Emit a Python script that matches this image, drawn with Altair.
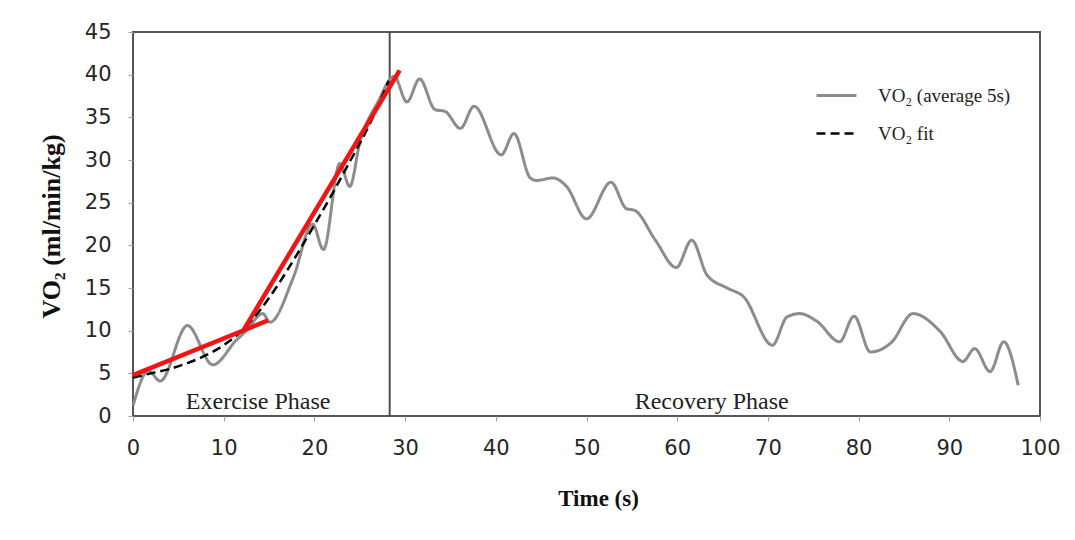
import altair as alt
import pandas as pd

# ---- data ----
time_avg = [0.0, 1.7, 3.0, 6.0, 8.8, 11.4, 12.5, 14.3, 15.1, 17.7, 19.8, 21.0,
            22.8, 23.9, 25.0, 27.0, 28.8, 30.2, 31.6, 33.3, 34.4, 36.1, 37.6,
            40.6, 42.0, 43.8, 44.5, 46.3, 47.8, 50.0, 52.7, 54.4, 55.3, 57.6,
            59.9, 61.6, 63.3, 65.5, 67.3, 70.5, 72.1, 73.5, 75.4, 77.9, 79.5,
            81.3, 83.6, 86.0, 89.0, 91.5, 92.8, 94.5, 96.0, 97.6]
vo2_avg = [1.2, 5.3, 4.1, 10.6, 6.0, 8.9, 10.0, 12.0, 11.0, 16.3, 22.5, 19.5,
           29.6, 26.9, 32.0, 36.8, 39.8, 36.8, 39.5, 35.9, 35.7, 33.7, 36.3,
           30.6, 33.1, 27.9, 27.6, 27.9, 26.9, 23.1, 27.4, 24.3, 24.1, 20.6,
           17.4, 20.6, 16.5, 15.0, 14.0, 8.3, 11.6, 12.0, 11.1, 8.7, 11.7,
           7.5, 8.6, 12.0, 9.9, 6.4, 7.9, 5.2, 8.7, 3.6]

time_fit = [0, 2, 4, 6, 8, 10, 12, 14, 16, 18, 20, 22, 24, 26, 28.2]
vo2_fit = [4.5, 5.0, 5.5, 6.2, 7.1, 8.3, 10.0, 12.4, 15.4, 18.8, 22.4, 26.1,
           30.0, 34.0, 39.3]

red_seg = ["slow", "slow", "fast", "fast"]
red_time = [0.0, 14.9, 12.2, 29.4]
red_vo2 = [4.8, 11.2, 10.1, 40.5]

phase_split = [28.3]
phase_labels = ["Exercise Phase", "Recovery Phase"]
phase_x = [13.8, 63.8]
phase_y = [0.85, 0.85]

series_names = ["VO₂ (average 5s)", "VO₂ fit"]

# ---- tables ----
df_lines = pd.concat([
    pd.DataFrame({"t": time_avg, "v": vo2_avg, "series": series_names[0]}),
    pd.DataFrame({"t": time_fit, "v": vo2_fit, "series": series_names[1]}),
])
df_red = pd.DataFrame({"t": red_time, "v": red_vo2, "seg": red_seg})
df_split = pd.DataFrame({"t": phase_split})
df_text = pd.DataFrame({"t": phase_x, "v": phase_y, "label": phase_labels})

xscale = alt.Scale(domain=[0, 100], nice=False, zero=False)
yscale = alt.Scale(domain=[0, 45], nice=False)

xaxis = alt.Axis(values=list(range(0, 101, 10)), title="Time (s)", grid=False,
                 domain=False, tickSize=5, tickColor="#a0a0a0", labelFlush=False,
                 labelFont="DejaVu Sans", labelFontSize=21, labelColor="#262626",
                 labelPadding=16, titleFont="Liberation Serif", titleFontSize=23,
                 titleFontWeight="bold", titleColor="#111111", titleY=82,
                 titleX=465, titleBaseline="middle")
yaxis = alt.Axis(values=list(range(0, 46, 5)), title="VO₂ (ml/min/kg)", grid=False,
                 domain=False, tickSize=5, tickColor="#a0a0a0", labelFlush=False,
                 labelFont="DejaVu Sans", labelFontSize=21, labelColor="#262626",
                 labelPadding=17, titleFont="Liberation Serif", titleFontSize=26,
                 titleFontWeight="bold", titleColor="#111111", titleX=-82,
                 titleY=194, titleAngle=-90, titleAlign="center",
                 titleBaseline="middle")

legend = alt.Legend(title=None, orient="none", legendX=682, legendY=42,
                    symbolType="stroke", symbolSize=1600, symbolStrokeWidth=3,
                    labelFont="Liberation Serif", labelFontSize=19,
                    labelColor="#222222", labelOffset=20, rowPadding=6,
                    padding=0)

lines = alt.Chart(df_lines).mark_line(interpolate="monotone").encode(
    x=alt.X("t:Q", scale=xscale, axis=xaxis),
    y=alt.Y("v:Q", scale=yscale, axis=yaxis),
    color=alt.Color("series:N", scale=alt.Scale(domain=series_names,
                                                 range=["#8c8c8c", "#000000"]),
                    legend=legend),
    strokeDash=alt.StrokeDash("series:N",
                              scale=alt.Scale(domain=series_names,
                                              range=[[1, 0], [9, 5]]),
                              legend=legend),
    strokeWidth=alt.StrokeWidth("series:N",
                                scale=alt.Scale(domain=series_names,
                                                range=[3, 2.5]),
                                legend=None),
)

red = alt.Chart(df_red).mark_line(color="#f01515", strokeWidth=4.5).encode(
    x=alt.X("t:Q", scale=xscale),
    y=alt.Y("v:Q", scale=yscale),
    detail="seg:N",
)

split = alt.Chart(df_split).mark_rule(color="#505050", strokeWidth=2).encode(
    x=alt.X("t:Q", scale=xscale),
)

texts = alt.Chart(df_text).mark_text(font="Liberation Serif", fontSize=24,
                                     color="#222222", baseline="alphabetic",
                                     align="center").encode(
    x=alt.X("t:Q", scale=xscale),
    y=alt.Y("v:Q", scale=yscale),
    text="label:N",
)

chart = alt.layer(split, lines, red, texts).properties(
    width=907, height=384,
    background="white",
    autosize=alt.AutoSizeParams(type="none"),
    padding={"left": 125, "top": 24, "right": 20, "bottom": 110},
).configure_view(stroke="#555555", strokeWidth=2)

chart.save("out.html", embed_options={"renderer": "svg", "actions": False})
